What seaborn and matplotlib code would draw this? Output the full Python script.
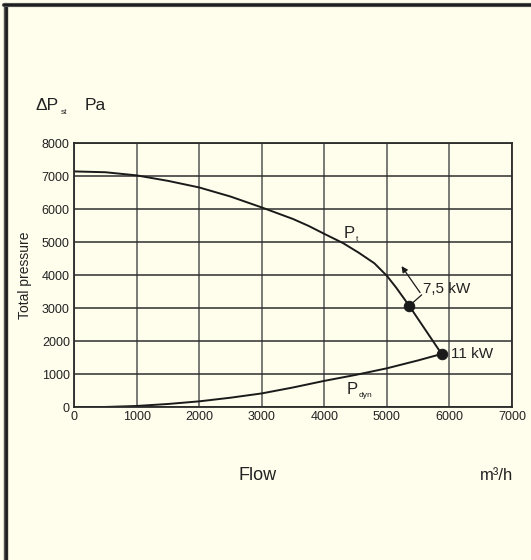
import matplotlib
matplotlib.use("Agg")
import matplotlib.pyplot as plt
import seaborn as sns
import pandas as pd
from matplotlib.lines import Line2D

# Fan curve values
flow_pt = [0, 500, 1000, 1500, 2000, 2500, 3000, 3500, 3750, 4000, 4300, 4550, 4800, 5000, 5150, 5358]
pressure_pt = [7140, 7115, 7020, 6855, 6655, 6380, 6050, 5700, 5490, 5250, 4970, 4680, 4360, 3980, 3620, 3070]

flow_dyn = [0, 500, 1000, 1500, 2000, 2500, 3000, 3500, 4000, 4500, 5000, 5500, 5875]
pressure_dyn = [0, 10, 40, 100, 180, 290, 420, 600, 800, 980, 1180, 1420, 1615]

# operating points (motor sizes)
op_flow = [5358, 5875]
op_pressure = [3070, 1615]
op_labels = ["7,5 kW", "11 kW"]

x_ticks = [0, 1000, 2000, 3000, 4000, 5000, 6000, 7000]
y_ticks = [0, 1000, 2000, 3000, 4000, 5000, 6000, 7000, 8000]

bg = "#FFFDEC"
sns.set_style("white")
plt.rcParams["font.family"] = ["Liberation Sans", "DejaVu Sans"]

fig = plt.figure(figsize=(5.31, 5.60), dpi=100, facecolor=bg)
ax = fig.add_axes([74 / 531, 1 - 407.3 / 560, 438 / 531, 264.3 / 560])
ax.set_facecolor(bg)

df_pt = pd.DataFrame({"flow": flow_pt, "pressure": pressure_pt})
df_dyn = pd.DataFrame({"flow": flow_dyn, "pressure": pressure_dyn})
df_op = pd.DataFrame({"flow": op_flow, "pressure": op_pressure})

sns.lineplot(data=df_pt, x="flow", y="pressure", ax=ax, color="#1a1a1a", lw=1.4, sort=False)
sns.lineplot(data=df_dyn, x="flow", y="pressure", ax=ax, color="#1a1a1a", lw=1.4, sort=False)
sns.lineplot(data=df_op, x="flow", y="pressure", ax=ax, color="#1a1a1a", lw=1.4, sort=False,
             marker="o", markersize=7.5, markeredgecolor="#1a1a1a")

ax.set_xlim(0, 7000)
ax.set_ylim(0, 8000)
ax.set_xticks(x_ticks)
ax.set_yticks(y_ticks)
ax.tick_params(labelsize=9, length=0, pad=3, colors="#222222")
ax.grid(True, axis="y", color="#2e2e2e", lw=1.1)
ax.grid(True, axis="x", color="#555555", lw=1.1)
for s in ax.spines.values():
    s.set_color("#2a2a2a")
    s.set_linewidth(1.3)
ax.set_xlabel("")
ax.set_ylabel("")

# curve labels
ax.text(4310, 5120, "P", fontsize=12, color="#222222")
ax.text(4500, 5040, "t", fontsize=6, color="#222222")
ax.text(4350, 390, "P", fontsize=12, color="#222222")
ax.text(4550, 310, "dyn", fontsize=6, color="#222222")
ax.text(op_flow[0] + 220, op_pressure[0] + 500, op_labels[0], fontsize=11, color="#222222", va="center")
ax.text(op_flow[1] + 150, op_pressure[1], op_labels[1], fontsize=11, color="#222222", va="center")

# little arrow from the 7,5 kW point
ax.plot([op_flow[0], 5556], [op_pressure[0], 3403], color="#1a1a1a", lw=0.9)
ax.annotate("", xy=(5209, 4342), xytext=(5556, 3403),
            arrowprops=dict(arrowstyle="-|>", color="#1a1a1a", lw=0.9, mutation_scale=9))

# axis texts
fig.text(36 / 531, 1 - 106 / 560, "ΔP", fontsize=12.5, color="#222222", va="center")
fig.text(61 / 531, 1 - 112 / 560, "st", fontsize=6, color="#222222", va="center")
fig.text(85 / 531, 1 - 106 / 560, "Pa", fontsize=12.5, color="#222222", va="center")
fig.text(25 / 531, 1 - 275 / 560, "Total pressure", fontsize=10, color="#222222",
         rotation=90, ha="center", va="center")
fig.text(258 / 531, 1 - 476 / 560, "Flow", fontsize=13, color="#222222", ha="center", va="center")
fig.text(497 / 531, 1 - 476 / 560, "m³/h", fontsize=12, color="#222222", ha="center", va="center")

# frame around the picture (top and left edges)
fig.add_artist(Line2D([5.5 / 531, 5.5 / 531], [0, 1 - 4.5 / 560], color="#555555", lw=3.2))
fig.add_artist(Line2D([5.5 / 531, 5.5 / 531], [0, 1 - 4.5 / 560], color="#1e1e1e", lw=1.8))
fig.add_artist(Line2D([4 / 531, 1], [1 - 4.5 / 560, 1 - 4.5 / 560], color="#555555", lw=3.0))
fig.add_artist(Line2D([4 / 531, 1], [1 - 4.5 / 560, 1 - 4.5 / 560], color="#1e1e1e", lw=1.6))

fig.savefig("out.png", dpi=100, facecolor=bg)
